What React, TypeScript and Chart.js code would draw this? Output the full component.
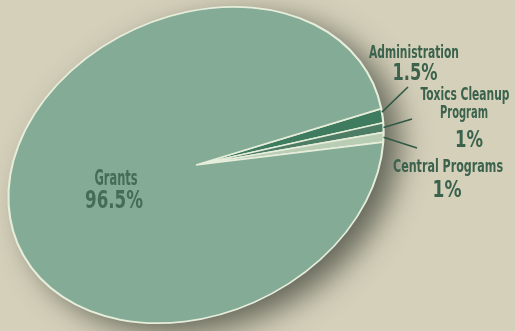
import React, { useEffect, useRef } from 'react';
import { Chart, registerables } from 'chart.js';

Chart.register(...registerables);

// ---- data ----
const categories = ['Administration', 'Toxics Cleanup Program', 'Central Programs', 'Grants'];
const shares = [1.5, 1, 1, 96.5];
const percentLabels = ['1.5%', '1%', '1%', '96.5%'];

// ---- styles ----
const sliceColors = ['#3f7c5f', '#4d7d65', '#b9ccb4', '#83ab96'];
const BG = '#d5d0ba';
const BORDER = '#e6eedb';
const TEXT_OUT = '#3a624c';
const TEXT_IN = '#456c57';
const LINE = '#2f5a45';
const FONT = '"DejaVu Sans Condensed", "Liberation Sans Narrow", Roboto, sans-serif';

// ellipse geometry on the page (perspective-tilted pie)
const ELL = { cx: 196, cy: 165, a: 195, b: 149, tilt: 25 };

type LabelLayout = {
  name: { text: string; cx: number; y: number; size: number; w: number }[];
  pct: { cx: number; y: number; size: number; w: number };
  leader?: { x: number; y: number; frac: number };
};
const layout: Record<string, LabelLayout> = {
  'Administration': {
    name: [{ text: 'Administration', cx: 414, y: 58, size: 18, w: 90 }],
    pct: { cx: 415, y: 80, size: 23, w: 45 },
    leader: { x: 408, y: 87, frac: 0.25 },
  },
  'Toxics Cleanup Program': {
    name: [
      { text: 'Toxics Cleanup', cx: 465, y: 100, size: 18, w: 89 },
      { text: 'Program', cx: 464, y: 118, size: 18, w: 48 },
    ],
    pct: { cx: 469, y: 147, size: 23, w: 28 },
    leader: { x: 412, y: 119, frac: 0.5 },
  },
  'Central Programs': {
    name: [{ text: 'Central Programs', cx: 448, y: 172, size: 18, w: 110 }],
    pct: { cx: 447, y: 197, size: 23, w: 29 },
    leader: { x: 417, y: 148, frac: 0.5 },
  },
  'Grants': {
    name: [{ text: 'Grants', cx: 116, y: 185, size: 21, w: 43 }],
    pct: { cx: 114, y: 208, size: 24, w: 58 },
  },
};

function drawFitted(ctx: CanvasRenderingContext2D, text: string, cx: number, y: number, size: number, w: number, color: string) {
  ctx.save();
  ctx.font = `bold ${size}px ${FONT}`;
  const mw = ctx.measureText(text).width || 1;
  ctx.translate(cx, y);
  ctx.scale(w / mw, 1);
  ctx.textAlign = 'center';
  ctx.textBaseline = 'alphabetic';
  ctx.fillStyle = color;
  ctx.fillText(text, 0, 0);
  ctx.restore();
}

const ellipsePlugin = {
  id: 'ellipsePie',
  beforeDraw(chart: any) {
    const ctx = chart.ctx as CanvasRenderingContext2D;
    ctx.save();
    ctx.fillStyle = BG;
    ctx.fillRect(0, 0, chart.width, chart.height);
    ctx.restore();
  },
  beforeDatasetsDraw(chart: any) {
    const ctx = chart.ctx as CanvasRenderingContext2D;
    const arc = chart.getDatasetMeta(0).data[0];
    const { x, y, outerRadius } = arc.getProps(['x', 'y', 'outerRadius'], true);
    const R = outerRadius;
    const m = new DOMMatrix()
      .translate(ELL.cx, ELL.cy)
      .rotate(-ELL.tilt)
      .scale(ELL.a / R, ELL.b / R)
      .translate(-x, -y);
    chart.$ellM = m;
    chart.$ellC = { x, y, R };
    ctx.save();
    ctx.transform(m.a, m.b, m.c, m.d, m.e, m.f);
    ctx.save();
    ctx.shadowColor = 'rgba(50,55,45,0.7)';
    ctx.shadowBlur = 30;
    ctx.shadowOffsetX = 16;
    ctx.shadowOffsetY = 10;
    ctx.beginPath();
    ctx.arc(x, y, R, 0, Math.PI * 2);
    ctx.fillStyle = sliceColors[3];
    ctx.fill();
    ctx.restore();
  },
  afterDatasetsDraw(chart: any) {
    chart.ctx.restore();
  },
  afterDraw(chart: any) {
    const ctx = chart.ctx as CanvasRenderingContext2D;
    const m: DOMMatrix = chart.$ellM;
    const c = chart.$ellC;
    const meta = chart.getDatasetMeta(0);
    categories.forEach((cat, i) => {
      const L = layout[cat];
      if (!L) return;
      if (L.leader && m) {
        const el = meta.data[i];
        const { startAngle, endAngle } = el.getProps(['startAngle', 'endAngle'], true);
        const ang = startAngle + (endAngle - startAngle) * L.leader.frac;
        const p = m.transformPoint(new DOMPoint(c.x + c.R * Math.cos(ang), c.y + c.R * Math.sin(ang)));
        ctx.save();
        ctx.strokeStyle = LINE;
        ctx.lineWidth = 1.6;
        ctx.beginPath();
        ctx.moveTo(p.x, p.y);
        ctx.lineTo(L.leader.x, L.leader.y);
        ctx.stroke();
        ctx.restore();
      }
      const color = L.leader ? TEXT_OUT : TEXT_IN;
      L.name.forEach((n) => drawFitted(ctx, n.text, n.cx, n.y, n.size, n.w, color));
      drawFitted(ctx, percentLabels[i], L.pct.cx, L.pct.y, L.pct.size, L.pct.w, color);
    });
  },
};

export default function App() {
  const ref = useRef<HTMLCanvasElement | null>(null);
  useEffect(() => {
    if (!ref.current) return;
    const chart = new Chart(ref.current, {
      type: 'pie',
      data: {
        labels: categories,
        datasets: [
          {
            data: shares,
            backgroundColor: sliceColors,
            borderColor: BORDER,
            borderWidth: 1.6,
            clip: false as any,
          },
        ],
      },
      options: {
        responsive: false,
        animation: false,
        events: [],
        rotation: 100.5,
        layout: { padding: 20 },
        plugins: {
          legend: { display: false },
          tooltip: { enabled: false },
        },
      },
      plugins: [ellipsePlugin as any],
    });
    return () => chart.destroy();
  }, []);
  return (
    <div style={{ position: 'fixed', left: 0, top: 0, width: 515, height: 331 }}>
      <canvas ref={ref} width={515} height={331} style={{ display: 'block' }} />
    </div>
  );
}
